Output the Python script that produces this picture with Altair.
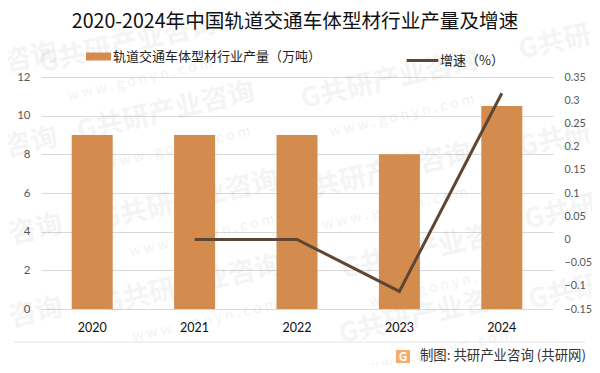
import altair as alt
import pandas as pd

YEARS = ["2020", "2021", "2022", "2023", "2024"]
OUTPUT = [9, 9, 9, 8, 10.5]
GROWTH = [None, 0, 0, -0.112, 0.315]
BAR_NAME = "轨道交通车体型材行业产量（万吨）"
LINE_NAME = "增速（%）"
TITLE = "2020-2024年中国轨道交通车体型材行业产量及增速"
SOURCE = "制图: 共研产业咨询 (共研网)"
LEFT_TICKS = [0, 2, 4, 6, 8, 10, 12]
RIGHT_TICKS = [-0.15, -0.1, -0.05, 0, 0.05, 0.1, 0.15, 0.2, 0.25, 0.3, 0.35]
WM_MAIN = "G共研产业咨询"
WM_SUB = "w w w . g o n y n . c o m"
WM_SPOTS = [(87, -33), (349, 3), (125, 35), (342, 96), (149, 123), (389, 173), (152, 208), (387, 238)]
WM_LEFT = "咨询"
WM_LEFT_SPOTS = [(-10, -19), (-10, 66), (-5, 153), (-5, 236)]
WM_RIGHT = "G共研"
WM_RIGHT_SPOTS = [(514, -34), (514, 63), (520, 136), (524, 216)]

FONT = "Noto Sans CJK SC"
NUM_FONT = "Lato"
W, H = 512, 232
df = pd.DataFrame({"year": YEARS, "output": OUTPUT, "growth": GROWTH, "bar": BAR_NAME, "line": LINE_NAME})
one = pd.DataFrame({"k": [0]})

x = alt.X("year:N", sort=YEARS, title=None,
          scale=alt.Scale(paddingInner=0.6, paddingOuter=0.3),
          axis=alt.Axis(labelAngle=0, labelColor="#111111", labelFontSize=12.5, labelFont=NUM_FONT,
                        labelPadding=12, domain=False, ticks=False, grid=False))


def wm(text, px, py, size=27, weight="bold", op=0.04):
    return alt.Chart(one).mark_text(text=text, font=FONT, fontWeight=weight, fontSize=size,
                                    angle=347, color="#000000", opacity=op, align="center"
                                    ).encode(x=alt.value(px), y=alt.value(py))


layers = []
for px, py in WM_SPOTS:
    layers.append(wm(WM_MAIN, px, py))
    layers.append(wm(WM_SUB, px + 12, py + 36, size=14, weight="normal", op=0.05))
for px, py in WM_LEFT_SPOTS:
    layers.append(wm(WM_LEFT, px, py))
for px, py in WM_RIGHT_SPOTS:
    layers.append(wm(WM_RIGHT, px, py))

bars = alt.Chart(df).mark_bar(size=41, color="#D38C4E").encode(
    x=x,
    y=alt.Y("output:Q", title=None, scale=alt.Scale(domain=[0, 12]),
            axis=alt.Axis(values=LEFT_TICKS, orient="left", labelColor="#595959", labelFontSize=11.5,
                          labelFont=NUM_FONT, labelPadding=11, domain=False, ticks=False,
                          gridColor="#D9D9D9", gridWidth=1)),
    color=alt.Color("bar:N", scale=alt.Scale(domain=[BAR_NAME], range=["#D38C4E"]),
                    legend=alt.Legend(title=None, orient="none", legendX=44, legendY=-34,
                                      symbolType="M-1,-0.32H1V0.32H-1Z", symbolSize=625,
                                      labelFont=FONT, labelFontSize=13, labelColor="#222222",
                                      labelOffset=1, labelLimit=300)),
)
line = alt.Chart(df).mark_line(strokeWidth=3, color="#5F4632").encode(
    x=x,
    y=alt.Y("growth:Q", title=None, scale=alt.Scale(domain=[-0.15, 0.35]),
            axis=alt.Axis(values=RIGHT_TICKS, orient="right", format="~g", labelColor="#595959",
                          labelFontSize=10.8, labelFont=NUM_FONT, labelPadding=11, domain=False,
                          ticks=False, grid=False)),
    stroke=alt.Stroke("line:N", scale=alt.Scale(domain=[LINE_NAME], range=["#5F4632"]),
                      legend=alt.Legend(title=None, orient="none", legendX=364, legendY=-34,
                                        symbolType="stroke", symbolSize=1000, symbolStrokeWidth=3,
                                        labelFont=FONT, labelFontSize=13, labelColor="#222222",
                                        labelOffset=0)),
)

title = alt.Chart(one).mark_text(text=TITLE, font=FONT, fontSize=19.6, color="#111111", align="center").encode(
    x=alt.value(254), y=alt.value(-55))
foot_rule = alt.Chart(one).mark_rule(color="#E4E4E4", strokeWidth=1).encode(
    x=alt.value(-27), x2=alt.value(544), y=alt.value(265))
foot_text = alt.Chart(one).mark_text(text=SOURCE, font=FONT, fontSize=13.4, color="#333333", align="right").encode(
    x=alt.value(545), y=alt.value(279))
logo = alt.Chart(one).mark_rect(color="#F5A35C", opacity=0.9).encode(
    x=alt.value(355), x2=alt.value(369), y=alt.value(273), y2=alt.value(286))
logo_g = alt.Chart(one).mark_text(text="G", font=FONT, fontWeight="bold", fontSize=12, color="white", align="center").encode(
    x=alt.value(362), y=alt.value(279.5))

chart = alt.layer(*layers, bars, line, title, foot_rule, logo, logo_g, foot_text).resolve_scale(
    y="independent"
).properties(
    width=W, height=H,
    padding={"left": 33, "top": 69, "right": 39, "bottom": 56},
    autosize=alt.AutoSizeParams(type="none"),
    background="white",
).configure_view(stroke=None)

chart.save("out.html", embed_options={"renderer": "svg", "actions": False})
